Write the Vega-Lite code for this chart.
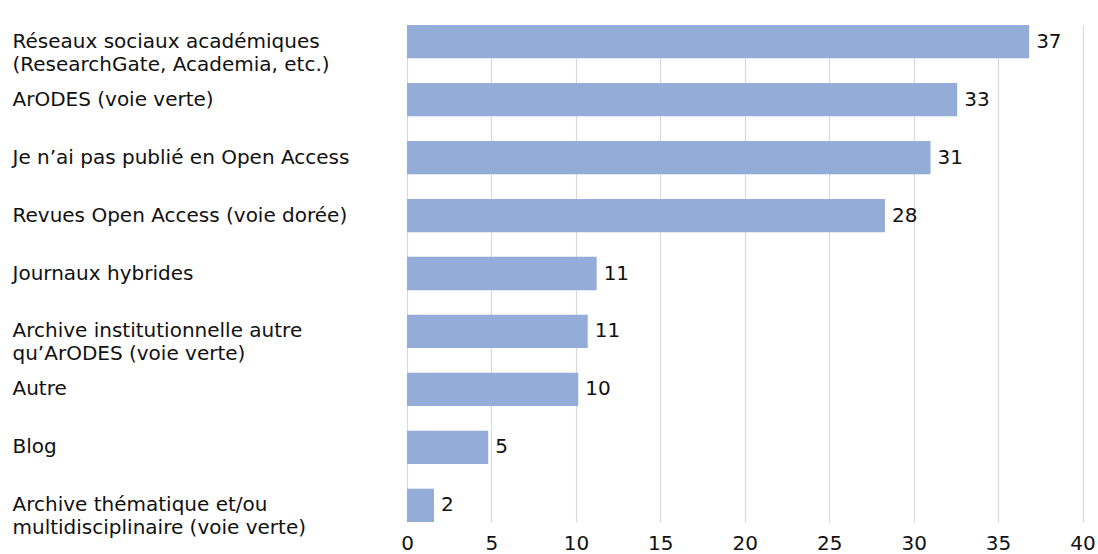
{
  "$schema": "https://vega.github.io/schema/vega-lite/v6.json",
  "autosize": {"type": "none"},
  "width": 675.5,
  "height": 497,
  "padding": {"left": 407, "top": 25, "right": 15, "bottom": 32},
  "background": "white",
  "config": {
    "view": {"stroke": null},
    "font": "DejaVu Sans"
  },
  "data": {
    "values": [
      {"cat": "Réseaux sociaux académiques|(ResearchGate, Academia, etc.)", "value": 36.84, "label": "37"},
      {"cat": "ArODES (voie verte)", "value": 32.58, "label": "33"},
      {"cat": "Je n’ai pas publié en Open Access", "value": 31.0, "label": "31"},
      {"cat": "Revues Open Access (voie dorée)", "value": 28.3, "label": "28"},
      {"cat": "Journaux hybrides", "value": 11.23, "label": "11"},
      {"cat": "Archive institutionnelle autre|qu’ArODES (voie verte)", "value": 10.7, "label": "11"},
      {"cat": "Autre", "value": 10.14, "label": "10"},
      {"cat": "Blog", "value": 4.81, "label": "5"},
      {"cat": "Archive thématique et/ou|multidisciplinaire (voie verte)", "value": 1.6, "label": "2"}
    ]
  },
  "encoding": {
    "y": {
      "field": "cat",
      "type": "nominal",
      "sort": null,
      "scale": {"paddingInner": 0.425, "paddingOuter": 0},
      "axis": {
        "title": null,
        "domain": false,
        "ticks": false,
        "labelAlign": "left",
        "labelPadding": 395,
        "labelLimit": 400,
        "labelFont": "DejaVu Sans",
        "labelFontSize": 20,
        "labelColor": "#111111",
        "labelLineHeight": 23,
        "labelExpr": "split(datum.label, '|')"
      }
    }
  },
  "layer": [
    {
      "mark": {"type": "bar", "color": "#94acd8"},
      "encoding": {
        "x": {
          "field": "value",
          "type": "quantitative",
          "scale": {"domain": [0, 40], "nice": false},
          "axis": {
            "title": null,
            "values": [0, 5, 10, 15, 20, 25, 30, 35, 40],
            "domain": false,
            "ticks": false,
            "grid": true,
            "gridColor": "#d9d9d9",
            "gridWidth": 1.2,
            "labelFont": "DejaVu Sans",
            "labelFontSize": 20,
            "labelColor": "#111111",
            "labelPadding": 27,
            "labelBaseline": "alphabetic",
            "labelFlush": false
          }
        }
      }
    },
    {
      "mark": {"type": "text", "align": "left", "baseline": "middle", "dx": 7, "fontSize": 20, "font": "DejaVu Sans", "color": "#111111"},
      "encoding": {
        "x": {"field": "value", "type": "quantitative"},
        "text": {"field": "label"}
      }
    }
  ]
}
